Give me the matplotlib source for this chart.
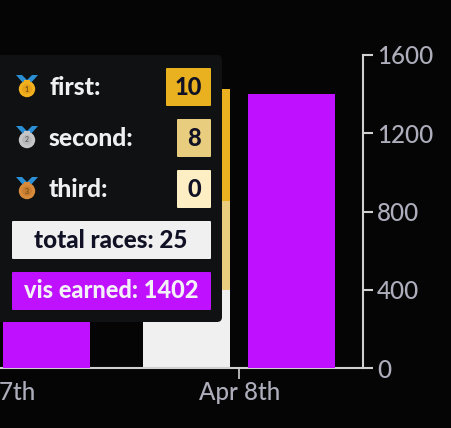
import matplotlib
matplotlib.use("Agg")
import matplotlib.pyplot as plt
from matplotlib.patches import FancyBboxPatch, Rectangle, Circle, Polygon

plt.rcParams['font.family'] = ['Lato', 'DejaVu Sans']

dates = ["Apr 7th", "Apr 8th"]
first_counts = [6, 10]
second_counts = [5, 8]
other_counts = [9, 7]
vis_earned = [600, 1402]
vis_ticks = [0, 400, 800, 1200, 1600]

tip_rows = [("first:", "10"), ("second:", "8"), ("third:", "0")]
total_label = "total races: 25"
vis_label = "vis earned: 1402"

BG = "#050505"
W, H = 451, 428
fig = plt.figure(figsize=(W / 100, H / 100), dpi=100, facecolor=BG)

# plot area in pixels
L, R, T, B = -130, 363, 55, 368
ax = fig.add_axes([L / W, 1 - B / H, (R - L) / W, (B - T) / H], facecolor="none")
step = 245
x0 = -5.5
ax.set_xlim((L - x0) / step, (R - x0) / step)
ax.set_ylim(0, 313 / 11.16)
xs = list(range(len(dates)))
off, bw = 52.5 / step, 87 / step

left = [x - off for x in xs]
ax.bar(left, other_counts, bw, color="#f0f0f0")
ax.bar(left, second_counts, bw, bottom=other_counts, color="#e9cd7f")
ax.bar(left, first_counts, bw, bottom=[a + b for a, b in zip(other_counts, second_counts)], color="#e9b01f")

ax.set_xticks(xs, dates)
ax.set_yticks([])
for s in ("top", "left", "right"):
    ax.spines[s].set_visible(False)
ax.spines["bottom"].set_color("#d0d0d0")
ax.spines["bottom"].set_linewidth(1.5)
ax.tick_params(axis="x", length=8, width=1.2, color="#d0d0d0", labelcolor="#adadbb",
               labelsize=17.4, pad=1.5)
for t in ax.get_xticklabels():
    t.set_clip_on(False)
    t.set_fontweight("medium")

ax2 = ax.twinx()
ax2.set_ylim(0, 1600)
ax2.bar([x + off for x in xs], vis_earned, bw, color="#bf10ff")
ax2.set_yticks(vis_ticks, [str(v) for v in vis_ticks])
for s in ("top", "left", "bottom"):
    ax2.spines[s].set_visible(False)
ax2.spines["right"].set_color("#d0d0d0")
ax2.spines["right"].set_linewidth(1.5)
ax2.tick_params(axis="y", length=7, width=1.5, color="#d0d0d0", labelcolor="#adadbb",
                labelsize=17.4, pad=3)
for t in ax2.get_yticklabels():
    t.set_fontweight("medium")

# tooltip overlay in pixel coordinates
ov = fig.add_axes([0, 0, 1, 1], facecolor="none", zorder=10)
ov.set_xlim(0, W)
ov.set_ylim(H, 0)
ov.axis("off")
ov.add_patch(FancyBboxPatch((-20, 55), 242, 267, boxstyle="round,pad=0,rounding_size=5",
                            fc="#0f1113", ec="none"))

row_y = [87, 138, 189]
box_x = [166, 177, 177]
box_col = ["#e9b01f", "#e9cd7f", "#fdeec4"]
medal_col = ["#f2b01e", "#c4c6c8", "#d98b3c"]
inner_col = ["#d9920f", "#a9abae", "#b87028"]
for (lab, val), y, bx, c, mc, ic, n in zip(tip_rows, row_y, box_x, box_col, medal_col, inner_col, "123"):
    cy = y + 2
    ov.add_patch(Polygon([(16, cy - 14), (22, cy - 14), (27, cy - 9), (32, cy - 14), (38, cy - 14), (30, cy - 5), (24, cy - 5)],
                         fc="#2b8fd6", ec="none"))
    ov.add_patch(Rectangle((24, cy - 9), 6, 4, fc=mc, ec="none"))
    ov.add_patch(Circle((27, cy), 8.2, fc=mc, ec="none"))
    ov.add_patch(Circle((27, cy), 5, fc=ic, ec="none", alpha=0.45))
    ov.text(27, cy, n, color="#7a5010" if n != "2" else "#666666", fontsize=5, ha="center", va="center", fontweight="bold")
    ov.text(49, y, lab, color="#f0f0f0", fontsize=17.8, fontweight="black", ha="left", va="center")
    ov.add_patch(FancyBboxPatch((bx, y - 19), 211 - bx, 38, boxstyle="round,pad=0,rounding_size=1", fc=c, ec="none"))
    ov.text((bx + 211) / 2, y, val, color="#101124", fontsize=17, fontweight="black", ha="center", va="center")

ov.add_patch(FancyBboxPatch((12, 221), 199, 38, boxstyle="round,pad=0,rounding_size=1", fc="#f0f0f0", ec="none"))
ov.text(111, 240, total_label, color="#101124", fontsize=17.4, fontweight="black", ha="center", va="center")
ov.add_patch(FancyBboxPatch((12, 272), 199, 38, boxstyle="round,pad=0,rounding_size=1", fc="#bf10ff", ec="none"))
ov.text(111, 291, vis_label, color="#f4f0f8", fontsize=17, fontweight="black", ha="center", va="center")

fig.savefig("out.png", dpi=100, facecolor=BG)
